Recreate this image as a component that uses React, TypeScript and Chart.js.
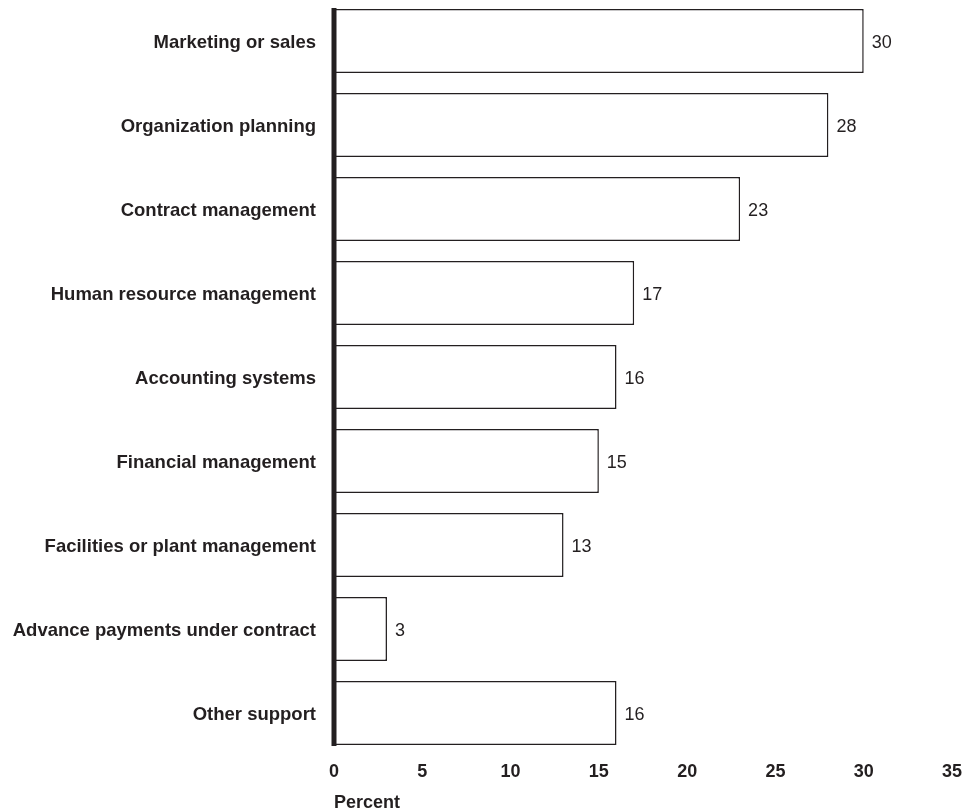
import React, { useEffect, useRef } from "react";
import { Chart, registerables } from "chart.js";

Chart.register(...registerables);

const categories = [
  "Marketing or sales",
  "Organization planning",
  "Contract management",
  "Human resource management",
  "Accounting systems",
  "Financial management",
  "Facilities or plant management",
  "Advance payments under contract",
  "Other support",
];
const values = [30, 28, 23, 17, 16, 15, 13, 3, 16];
const xTicks = [0, 5, 10, 15, 20, 25, 30, 35];
const xTitle = "Percent";

const INK = "#231f20";
const FONT = "'Liberation Sans', Arial, Helvetica, sans-serif";

const overlay = {
  id: "overlay",
  afterDatasetsDraw(chart: any) {
    const ctx = chart.ctx;
    const meta = chart.getDatasetMeta(0);
    const xs = chart.scales.x;
    ctx.save();
    ctx.font = `normal 18px ${FONT}`;
    ctx.fillStyle = INK;
    ctx.textAlign = "left";
    ctx.textBaseline = "middle";
    meta.data.forEach((bar: any, i: number) => {
      ctx.fillText(String(values[i]), bar.x + 8, bar.y + 2);
    });
    // thick y axis line spanning bars
    const first = meta.data[0];
    const last = meta.data[meta.data.length - 1];
    const top = first.y - first.height / 2 - 1;
    const bottom = last.y + last.height / 2 + 1;
    const x0 = xs.getPixelForValue(0);
    ctx.fillRect(x0 - 2.5, top, 5, bottom - top);
    // axis title
    ctx.font = `bold 18px ${FONT}`;
    ctx.textBaseline = "alphabetic";
    ctx.fillText(xTitle, chart.chartArea.left, 809);
    ctx.restore();
  },
};

export default function App() {
  const ref = useRef<HTMLCanvasElement | null>(null);
  useEffect(() => {
    if (!ref.current) return;
    const chart = new Chart(ref.current, {
      type: "bar",
      data: {
        labels: categories,
        datasets: [
          {
            data: values,
            backgroundColor: "#ffffff",
            borderColor: INK,
            borderWidth: 1.5,
            categoryPercentage: 1,
            barPercentage: 0.762,
          },
        ],
      },
      options: {
        indexAxis: "y",
        animation: false,
        responsive: false,
        devicePixelRatio: 1,
        layout: { padding: { left: 0, right: 28, top: 0, bottom: 0 } },
        plugins: {
          legend: { display: false },
          tooltip: { enabled: false },
        },
        scales: {
          y: {
            grid: { display: false, drawTicks: false },
            border: { display: false },
            ticks: {
              color: INK,
              padding: 18,
              labelOffset: 2,
              font: { family: FONT, size: 18.5, weight: "bold" },
            },
            afterFit(scale: any) {
              scale.width = 334;
              scale.paddingTop = 0;
              scale.paddingBottom = 0;
            },
          },
          x: {
            min: 0,
            max: 35,
            grid: { display: false, drawTicks: false },
            border: { display: false },
            afterBuildTicks(scale: any) {
              scale.ticks = xTicks.map((v) => ({ value: v }));
            },
            ticks: {
              color: INK,
              padding: 6,
              maxRotation: 0,
              font: { family: FONT, size: 18, weight: "bold" },
            },
            afterFit(scale: any) {
              scale.height = 57;
            },
          },
        },
      },
      plugins: [overlay],
    } as any);
    return () => chart.destroy();
  }, []);
  return (
    <div style={{ position: "absolute", left: 0, top: -1, width: 980, height: 813, background: "#fff" }}>
      <canvas ref={ref} width={980} height={813} style={{ display: "block" }} />
    </div>
  );
}
